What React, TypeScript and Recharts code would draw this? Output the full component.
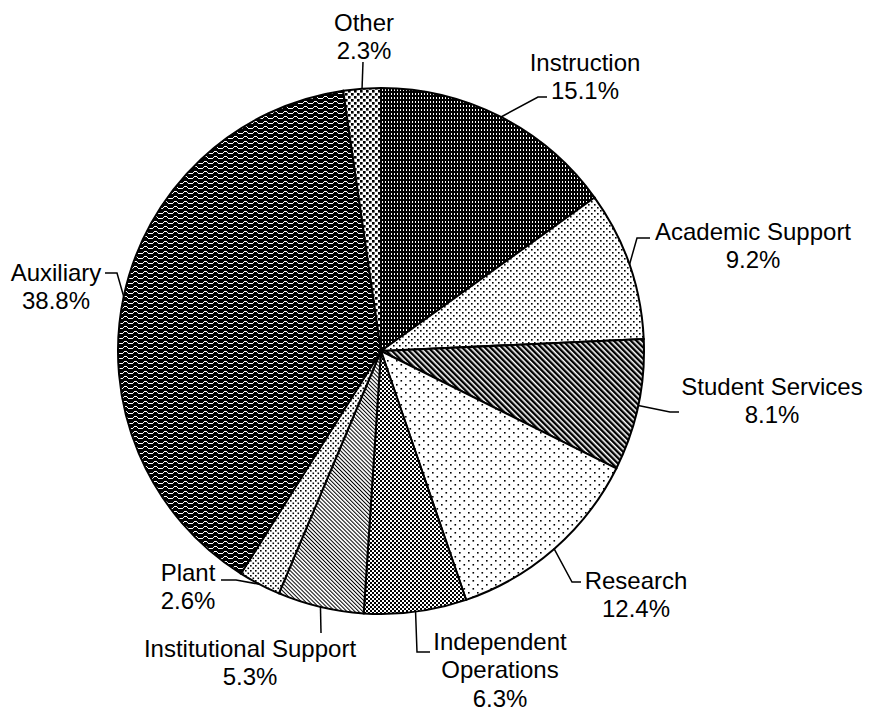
import React from 'react';
import { PieChart, Pie, Cell } from 'recharts';

const CATEGORIES = [
  'Instruction',
  'Academic Support',
  'Student Services',
  'Research',
  'Independent Operations',
  'Institutional Support',
  'Plant',
  'Auxiliary',
  'Other',
];
const SHARES = [15.1, 9.2, 8.1, 12.4, 6.3, 5.3, 2.6, 38.8, 2.3];
const PATTERN_IDS = [
  'p-instr', 'p-acad', 'p-stud', 'p-res', 'p-indep', 'p-inst', 'p-plant', 'p-aux', 'p-other',
];

const data = CATEGORIES.map((name, i) => ({ name, value: SHARES[i] }));

// label placement (page px): centre of first text line + leader bend points
const LABEL_LAYOUT = [
  { x: 585, y: 62, wrap: false, path: [[538, 97], [547, 97]] },
  { x: 753, y: 231, wrap: false, path: [[637, 238], [650, 238]] },
  { x: 772, y: 386, wrap: false, path: [[670, 412], [679, 412]] },
  { x: 636, y: 580, wrap: false, path: [[572, 582], [581, 582]] },
  { x: 500, y: 641, wrap: true, path: [[417, 652], [430, 652]] },
  { x: 250, y: 648, wrap: false, path: [[321, 633]] },
  { x: 188, y: 572, wrap: false, path: [[236, 580], [221, 580]] },
  { x: 56, y: 272, wrap: false, path: [[117, 273], [105, 273]] },
  { x: 364, y: 22, wrap: false, path: [[363, 62]] },
];
const LINE_H = 28.5;
const FONT = '"Liberation Sans", Arial, sans-serif';

const renderLabel = (props: any) => {
  const { cx, cy, midAngle, outerRadius, index } = props;
  const rad = (-midAngle * Math.PI) / 180;
  const sx = cx + outerRadius * Math.cos(rad);
  const sy = cy + outerRadius * Math.sin(rad);
  const L = LABEL_LAYOUT[index];
  const name = CATEGORIES[index];
  const lines = L.wrap ? name.split(' ') : [name];
  lines.push(`${SHARES[index].toFixed(1)}%`);
  const pts = [[sx, sy], ...L.path].map((p) => p.join(',')).join(' ');
  return (
    <g key={`lbl-${index}`}>
      <polyline points={pts} fill="none" stroke="#000" strokeWidth={1.5} />
      {lines.map((t, i) => (
        <text
          key={i}
          x={L.x}
          y={L.y + i * LINE_H + 8.5}
          textAnchor="middle"
          fontSize={24}
          fontFamily={FONT}
          fill="#000"
        >
          {t}
        </text>
      ))}
    </g>
  );
};

export default function App() {
  return (
    <div style={{ position: 'absolute', left: 0, top: 0, background: '#fff' }}>
      <PieChart width={869} height={711} margin={{ top: 0, right: 0, bottom: 0, left: 0 }}>
        <defs>
          <pattern id="p-instr" width="3" height="4" patternUnits="userSpaceOnUse">
            <rect width="3" height="4" fill="#000" />
            <rect x="1" y="1" width="1" height="2" fill="#fff" />
          </pattern>
          <pattern id="p-acad" width="6" height="6" patternUnits="userSpaceOnUse">
            <rect width="6" height="6" fill="#fff" />
            <rect x="0" y="0" width="1.6" height="1.6" fill="#000" />
            <rect x="3" y="3" width="1.6" height="1.6" fill="#000" />
          </pattern>
          <pattern id="p-stud" width="4" height="4" patternUnits="userSpaceOnUse" patternTransform="rotate(-45)">
            <rect width="4" height="4" fill="#fff" />
            <rect x="0" y="0" width="2.4" height="4" fill="#000" />
          </pattern>
          <pattern id="p-res" width="9" height="8" patternUnits="userSpaceOnUse">
            <rect width="9" height="8" fill="#fff" />
            <rect x="0" y="0" width="1.6" height="1.6" fill="#000" />
            <rect x="4.5" y="4" width="1.6" height="1.6" fill="#000" />
          </pattern>
          <pattern id="p-indep" width="4" height="4" patternUnits="userSpaceOnUse">
            <rect width="4" height="4" fill="#fff" />
            <rect x="0" y="0" width="2" height="2" fill="#000" />
            <rect x="2" y="2" width="2" height="2" fill="#000" />
          </pattern>
          <pattern id="p-inst" width="2.8" height="4" patternUnits="userSpaceOnUse" patternTransform="rotate(-45)">
            <rect width="2.8" height="4" fill="#fff" />
            <rect x="0" y="0" width="1" height="4" fill="#000" />
          </pattern>
          <pattern id="p-plant" width="5" height="5" patternUnits="userSpaceOnUse">
            <rect width="5" height="5" fill="#fff" />
            <rect x="0" y="0" width="1.6" height="1.6" fill="#000" />
            <rect x="2.5" y="2.5" width="1.6" height="1.6" fill="#000" />
          </pattern>
          <pattern id="p-aux" width="10" height="5" patternUnits="userSpaceOnUse">
            <rect width="10" height="5" fill="#000" />
            <rect x="0" y="3" width="3" height="1" fill="#fff" />
            <rect x="3" y="2" width="1" height="1" fill="#fff" />
            <rect x="4" y="1" width="3" height="1" fill="#fff" />
            <rect x="7" y="2" width="1" height="1" fill="#fff" />
            <rect x="8" y="3" width="2" height="1" fill="#fff" />
          </pattern>
          <pattern id="p-other" width="6" height="6" patternUnits="userSpaceOnUse">
            <rect width="6" height="6" fill="#fff" />
            <rect x="0" y="0" width="2.6" height="2.6" fill="#000" />
            <rect x="3" y="3" width="2.6" height="2.6" fill="#000" />
          </pattern>
        </defs>
        <Pie
          data={data}
          dataKey="value"
          nameKey="name"
          cx={381}
          cy={351}
          outerRadius={263}
          startAngle={90}
          endAngle={-270}
          stroke="#000"
          strokeWidth={2}
          label={renderLabel}
          labelLine={false}
          isAnimationActive={false}
        >
          {data.map((d, i) => (
            <Cell key={d.name} fill={`url(#${PATTERN_IDS[i]})`} stroke="#000" strokeWidth={2} />
          ))}
        </Pie>
      </PieChart>
    </div>
  );
}
